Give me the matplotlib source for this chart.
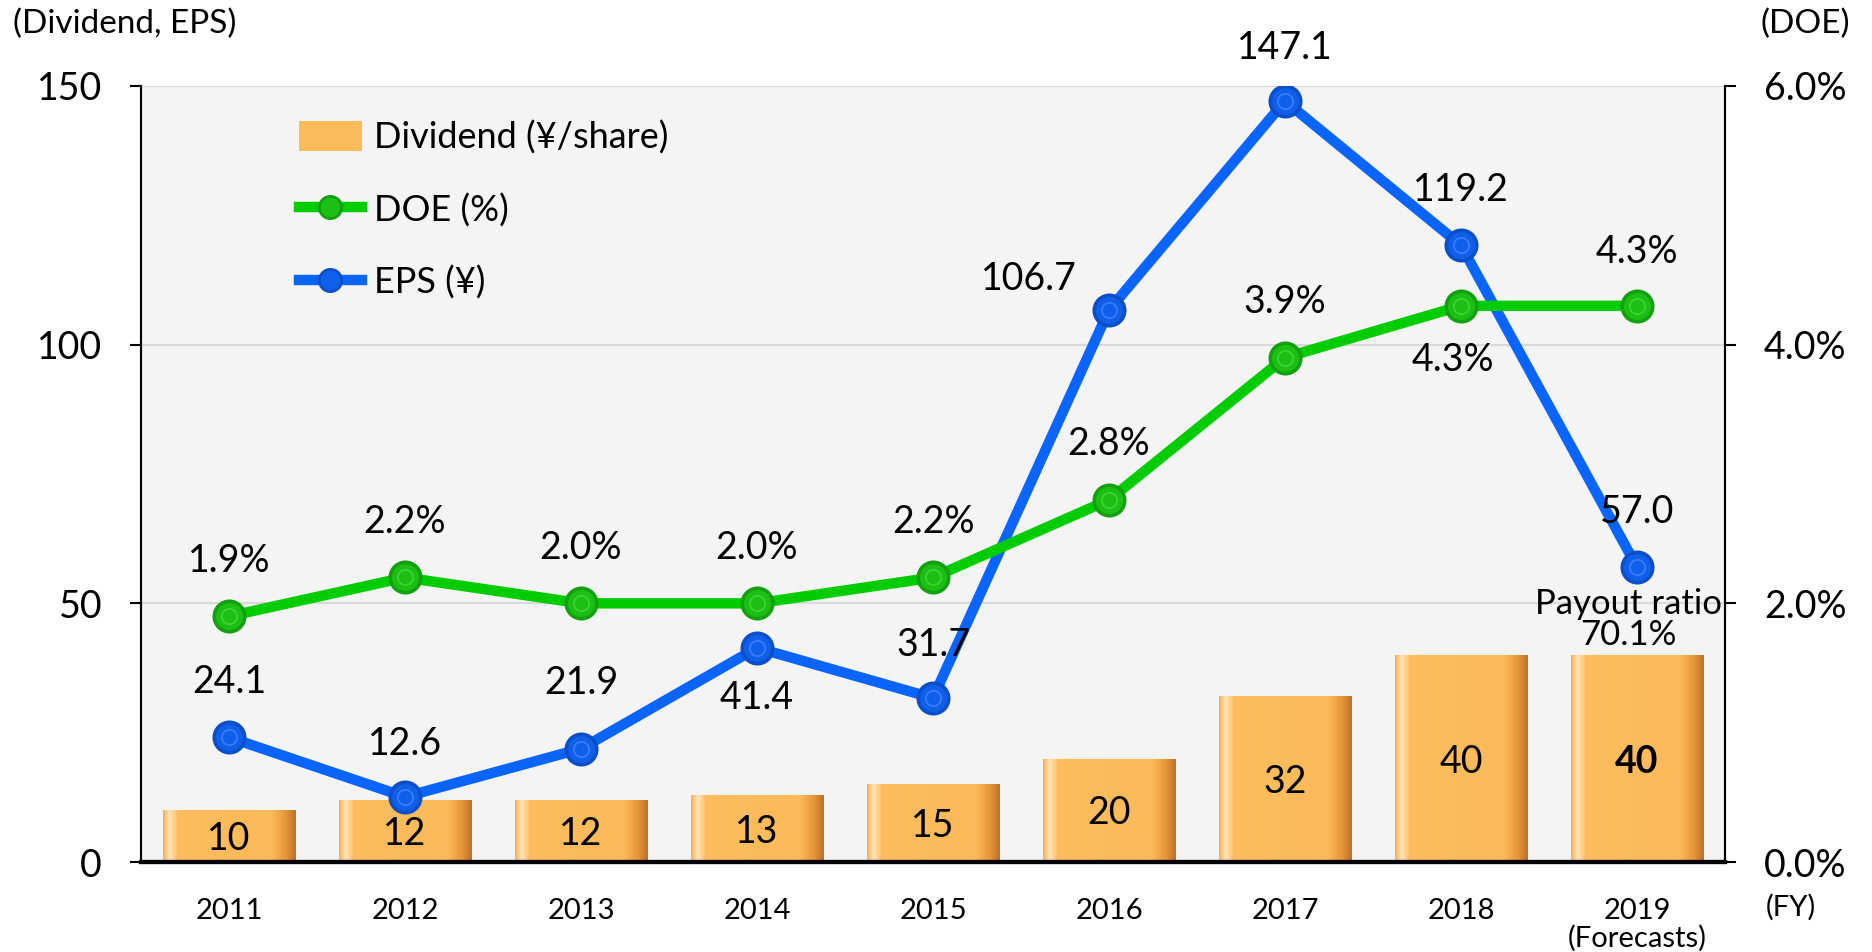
import numpy as np
import matplotlib
matplotlib.use("Agg")
import matplotlib.pyplot as plt
from matplotlib.colors import LinearSegmentedColormap
from matplotlib.lines import Line2D
from matplotlib.patches import Patch

plt.rcParams['font.family'] = ['Lato', 'DejaVu Sans']

years = ["2011", "2012", "2013", "2014", "2015", "2016", "2017", "2018", "2019"]
dividend = [10, 12, 12, 13, 15, 20, 32, 40, 40]
eps = [24.1, 12.6, 21.9, 41.4, 31.7, 106.7, 147.1, 119.2, 57.0]
doe = [1.9, 2.2, 2.0, 2.0, 2.2, 2.8, 3.9, 4.3, 4.3]
payout_label = "Payout ratio\n70.1%"

# label offsets in points (dx, dy)
doe_off = [(0, 40)] * 7 + [(-6, -39), (0, 39)]
eps_off = [(0, 40), (0, 38), (0, 47), (0, -36), (0, 38), (-58, 22), (0, 38), (0, 40), (0, 40)]

bar_cmap = LinearSegmentedColormap.from_list("bar", [
    (0.0, "#F6B04E"), (0.05, "#FFE6BF"), (0.11, "#FDBD5E"),
    (0.82, "#FCBA5A"), (0.92, "#E8983A"), (1.0, "#BE7026")])

fig = plt.figure(figsize=(18.72, 9.52), dpi=100)
ax1 = fig.add_axes([0.0753, 0.0945, 0.8462, 0.8152])
ax1.set_facecolor("#F4F4F4")
ax2 = ax1.twinx()

x = np.arange(len(years))
width = 0.75
bars = ax1.bar(x, dividend, width, color="#FDBC5C", zorder=2)
grad = np.linspace(0, 1, 256).reshape(1, -1)
for b in bars:
    im = ax1.imshow(grad, cmap=bar_cmap, aspect="auto", zorder=2.1,
                    extent=[b.get_x(), b.get_x() + b.get_width(), 0, b.get_height()])
    im.set_clip_path(b)

for i, v in enumerate(dividend):
    ax1.text(x[i], max(v / 2 - 0.6, 3.0), str(v), ha="center", va="center",
             fontsize=27, zorder=5,
             fontweight="bold" if i == len(years) - 1 else "normal")

ax1.plot(x, eps, color="#0A64FF", lw=7.5, zorder=4, marker="o", ms=22,
         mfc="#0F5FEA", mec="#0A4FC8", mew=2.5)
ax1.plot(x, eps, ls="none", marker="o", ms=11, mfc="none", mec="#3A80F5", mew=1.2, zorder=4.1)
for i, v in enumerate(eps):
    ax1.annotate(f"{v:.1f}", (x[i], v), xytext=eps_off[i], textcoords="offset points",
                 ha="center", va="center", fontsize=27, zorder=6)

ax2.plot(x, doe, color="#00CC00", lw=7.5, zorder=4, marker="o", ms=22,
         mfc="#1DBF14", mec="#12A00E", mew=2.5)
ax2.plot(x, doe, ls="none", marker="o", ms=11, mfc="none", mec="#40D434", mew=1.2, zorder=4.1)
for i, v in enumerate(doe):
    ax2.annotate(f"{v:.1f}%", (x[i], v), xytext=doe_off[i], textcoords="offset points",
                 ha="center", va="center", fontsize=27, zorder=6)

ax1.annotate(payout_label, (x[-1], dividend[-1]), xytext=(-6, 3), textcoords="offset points",
             ha="center", va="bottom", fontsize=25, linespacing=0.95, zorder=6)

ax1.set_xlim(-0.5, len(years) - 0.5)
ax1.set_ylim(0, 150)
ax2.set_ylim(0, 6)
ax1.set_yticks([0, 50, 100, 150])
ax2.set_yticks([0, 2, 4, 6])
ax2.set_yticklabels([f"{t:.1f}%" for t in [0, 2, 4, 6]])
ax1.set_xticks(x)
ax1.set_xticklabels(years)
ax1.grid(axis="y", color="#D9D9D9", lw=1.5, zorder=0)
ax1.set_axisbelow(True)

ax1.tick_params(axis="y", labelsize=27, length=8, width=1.5, pad=20)
ax2.tick_params(axis="y", labelsize=27, length=8, width=1.5, pad=20)
ax1.tick_params(axis="x", labelsize=21, length=0, pad=26)
for ax in (ax1, ax2):
    ax.spines["top"].set_visible(False)
    ax.spines["left"].set_linewidth(1.5)
    ax.spines["right"].set_linewidth(1.5)
    ax.spines["bottom"].set_linewidth(3)

ax1.annotate("(Forecasts)", (x[-1], 0), xycoords="data", xytext=(0, -55),
             textcoords="offset points", ha="center", va="center", fontsize=21,
             annotation_clip=False)
fig.text(1791 / 1872, 1 - 907 / 952, "(FY)", ha="center", va="center", fontsize=21)
fig.text(125 / 1872, 1 - 24 / 952, "(Dividend, EPS)", ha="center", va="center", fontsize=24)
fig.text(1805 / 1872, 1 - 24 / 952, "(DOE)", ha="center", va="center", fontsize=24)

handles = [
    Patch(facecolor="#FDBC5C", edgecolor="#E8983A", lw=0),
    Line2D([], [], color="#00CC00", lw=7.5, marker="o", ms=16, mfc="#1DBF14", mec="#12A00E", mew=2),
    Line2D([], [], color="#0A64FF", lw=7.5, marker="o", ms=16, mfc="#0F5FEA", mec="#0A4FC8", mew=2),
]
ax2.legend(handles, ["Dividend (¥/share)", "DOE (%)", "EPS (¥)"], loc="upper left",
           bbox_to_anchor=(0.079, 0.997), frameon=False, fontsize=26,
           handlelength=1.75, handleheight=0.9, handletextpad=0.35, labelspacing=1.06)

fig.savefig("out.png", dpi=100)
